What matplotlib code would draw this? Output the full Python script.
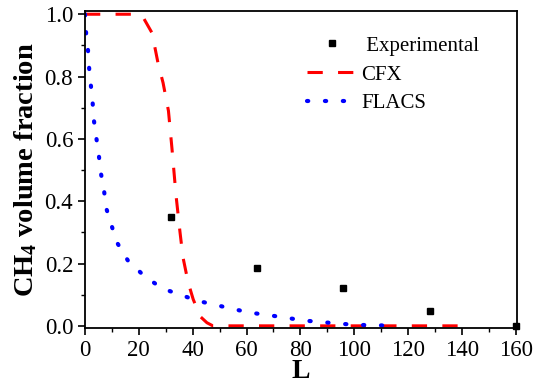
import matplotlib
matplotlib.use('Agg')
import matplotlib.pyplot as plt
from matplotlib.ticker import MultipleLocator, FormatStrFormatter

# ─── DATA ──────────────────────────────────────────────────────────────
exp_x = [32, 64, 96, 128, 160]
exp_y = [0.35, 0.185, 0.12, 0.048, 0.0]

cfx_x = [0, 20, 21.6, 24.9, 27.2, 29.0, 31.0, 32.3, 33.8, 35.3, 36.4, 38.3,
         40.2, 42.8, 45.3, 47.5, 60, 80, 100, 120, 140]
cfx_y = [1.0, 1.0, 0.99, 0.94, 0.84, 0.78, 0.69, 0.57, 0.42, 0.30, 0.22, 0.14,
         0.085, 0.03, 0.01, 0.0, 0.0, 0.0, 0.0, 0.0, 0.0]

flacs_x = [0, 0.4, 1.1, 1.5, 2.2, 2.8, 3.3, 4.1, 5.1, 5.9, 7.0, 7.8, 9.6, 11.7,
           15.9, 22.0, 28.7, 35.3, 42.0, 48.6, 55.0, 61.6, 68.5, 74.7, 81.4,
           88.0, 94.5, 101.0, 108.0, 115.0]
flacs_y = [1.0, 0.94, 0.886, 0.83, 0.77, 0.72, 0.66, 0.61, 0.55, 0.49, 0.44,
           0.38, 0.33, 0.27, 0.21, 0.16, 0.12, 0.10, 0.08, 0.067, 0.054, 0.042,
           0.034, 0.026, 0.017, 0.012, 0.007, 0.003, 0.002, 0.0]

# ─── PLOT ──────────────────────────────────────────────────────────────
plt.rcParams['font.family'] = ['Liberation Serif', 'DejaVu Serif']
plt.rcParams['mathtext.fontset'] = 'custom'
plt.rcParams['mathtext.rm'] = 'Liberation Serif'
plt.rcParams['mathtext.bf'] = 'Liberation Serif:bold'

fig = plt.figure(figsize=(5.38, 3.86), dpi=100)
ax = fig.add_axes([0.158, 0.151, 0.803, 0.821])

ax.plot(exp_x, exp_y, 's', color='black', markersize=5, label=' Experimental',
        clip_on=False, zorder=3)
ax.plot(cfx_x, cfx_y, color='red', lw=2.2, dashes=(5, 5), label='CFX')
ax.plot(flacs_x, flacs_y, color='blue', lw=3.0, dashes=(0.3, 4.0),
        dash_capstyle='round', label='FLACS')

ax.set_xlim(0, 160.5)
ax.set_ylim(-0.006, 1.011)
ax.xaxis.set_major_locator(MultipleLocator(20))
ax.xaxis.set_minor_locator(MultipleLocator(10))
ax.yaxis.set_major_locator(MultipleLocator(0.2))
ax.yaxis.set_minor_locator(MultipleLocator(0.1))
ax.yaxis.set_major_formatter(FormatStrFormatter('%.1f'))
ax.tick_params(which='major', direction='out', length=5, width=1.2,
               labelsize=16.5, top=False, right=False)
ax.tick_params(which='minor', direction='out', length=3, width=1.0,
               top=False, right=False)
for s in ax.spines.values():
    s.set_linewidth(1.3)

ax.set_xlabel('L', fontsize=20, fontweight='bold', labelpad=-1)
ax.set_ylabel(r'$\mathbf{CH_4}$ volume fraction', fontsize=20.5,
              fontweight='bold', labelpad=4)

ax.legend(loc='upper right', bbox_to_anchor=(0.942, 0.96), frameon=False,
          fontsize=15, handlelength=2.4, handletextpad=0.2, labelspacing=0.45,
          borderaxespad=0.2)

fig.savefig('out.png', dpi=100)
